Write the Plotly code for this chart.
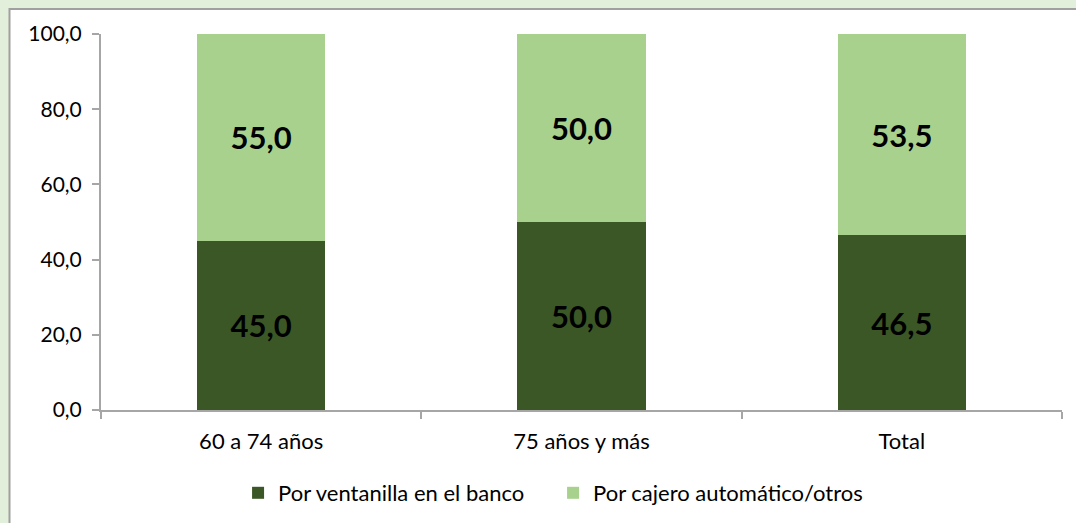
import plotly.graph_objects as go

categories = ["60 a 74 años", "75 años y más", "Total"]
ventanilla = [45.0, 50.0, 46.5]
cajero = [55.0, 50.0, 53.5]
series_names = ["Por ventanilla en el banco", "Por cajero automático/otros"]
y_ticks = [0, 20, 40, 60, 80, 100]
y_tick_labels = ["0,0", "20,0", "40,0", "60,0", "80,0", "100,0"]

W, H = 1076, 523
L, R, T, B = 101, 14, 34, 113

def fmt(v):
    return f"{v:.1f}".replace(".", ",")

label_font = dict(family="Lato", size=31, color="black", weight="bold")

fig = go.Figure()
fig.add_trace(go.Bar(
    x=categories, y=ventanilla, name=series_names[0],
    marker=dict(color="#3B5726", line=dict(width=0)),
    text=[fmt(v) for v in ventanilla], textposition="inside",
    insidetextanchor="middle", textfont=label_font,
))
fig.add_trace(go.Bar(
    x=categories, y=cajero, name=series_names[1],
    marker=dict(color="#A9D18E", line=dict(width=0)),
    text=[fmt(v) for v in cajero], textposition="inside",
    insidetextanchor="middle", textfont=label_font,
))

pw = W - L - R
ph = H - T - B
fig.add_shape(type="rect", xref="paper", yref="paper",
              x0=(9.5 - L) / pw, x1=1.2, y0=-0.5, y1=(H - B - 9) / ph,
              line=dict(color="#A0A0A0", width=2), fillcolor="white", layer="below")

fig.update_layout(
    width=W, height=H,
    margin=dict(l=L, r=R, t=T, b=B, autoexpand=False),
    barmode="stack", bargap=0.6,
    paper_bgcolor="#E2EFDA", plot_bgcolor="rgba(0,0,0,0)",
    font=dict(family="Lato", size=21, color="black"),
    showlegend=True,
    legend=dict(orientation="h", xref="container", yref="container",
                x=0.514, xanchor="center", y=1 - 493 / H, yanchor="middle",
                font=dict(size=22), bgcolor="rgba(0,0,0,0)", itemwidth=30,
                entrywidth=270, traceorder="normal"),
    xaxis=dict(showline=True, linecolor="#A6A6A6", linewidth=2, ticks="outside",
               tickson="boundaries", ticklen=7, tickcolor="#A6A6A6", tickwidth=2,
               tickfont=dict(size=22), showgrid=False, ticklabelstandoff=11),
    yaxis=dict(range=[0, 100], tickvals=y_ticks, ticktext=y_tick_labels,
               showline=True, linecolor="#A6A6A6", linewidth=2, ticks="outside",
               ticklen=7, tickcolor="#A6A6A6", tickwidth=2, showgrid=False,
               zeroline=False, tickfont=dict(size=21), ticklabelstandoff=6),
)

fig.write_html("out.html", config={"displayModeBar": False},
               post_script="document.body.style.margin='0';document.body.style.overflow='hidden';")
